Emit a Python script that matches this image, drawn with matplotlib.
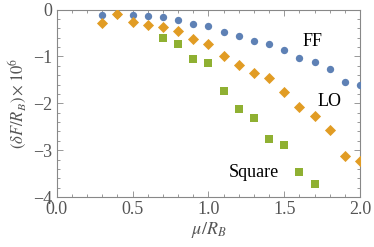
import matplotlib
matplotlib.use("Agg")
import matplotlib.pyplot as plt
from matplotlib.ticker import MultipleLocator, FuncFormatter

# data
ff_x = [0.3, 0.4, 0.5, 0.6, 0.7, 0.8, 0.9, 1.0, 1.1, 1.2, 1.3, 1.4, 1.5, 1.6, 1.7, 1.8, 1.9, 2.0]
ff_y = [-0.12, -0.10, -0.12, -0.14, -0.17, -0.22, -0.30, -0.35, -0.48, -0.57, -0.67, -0.73,
        -0.86, -1.03, -1.12, -1.27, -1.54, -1.61]

lo_x = [0.3, 0.4, 0.5, 0.6, 0.7, 0.8, 0.9, 1.0, 1.1, 1.2, 1.3, 1.4, 1.5, 1.6, 1.7, 1.8, 1.9, 2.0]
lo_y = [-0.28, -0.09, -0.27, -0.32, -0.37, -0.46, -0.62, -0.73, -0.99, -1.19, -1.36, -1.46,
        -1.76, -2.07, -2.27, -2.57, -3.12, -3.23]

sq_x = [0.7, 0.8, 0.9, 1.0, 1.1, 1.2, 1.3, 1.4, 1.5, 1.6, 1.7]
sq_y = [-0.61, -0.73, -1.05, -1.15, -1.73, -2.12, -2.32, -2.76, -2.88, -3.46, -3.73]

plt.rcParams["font.family"] = "Liberation Serif"
plt.rcParams["mathtext.fontset"] = "stix"

fig = plt.figure(figsize=(3.74, 2.47), dpi=100)
ax = fig.add_axes([0.1516, 0.2024, 0.811, 0.7591])

ax.scatter(ff_x, ff_y, marker="o", s=28, color="#5E81B5", linewidths=0, zorder=3)
ax.scatter(lo_x, lo_y, marker="D", s=32, color="#E19C24", linewidths=0, zorder=4)
ax.scatter(sq_x, sq_y, marker="s", s=26, color="#8FB032", linewidths=0, zorder=3)

ax.text(1.69, -0.68, "FF", fontsize=13, ha="center", va="center")
ax.text(1.80, -1.96, "LO", fontsize=13, ha="center", va="center")
ax.text(1.30, -3.48, "Square", fontsize=13, ha="center", va="center")

ax.set_xlim(0, 2.0)
ax.set_ylim(-4, 0)
ax.xaxis.set_major_locator(MultipleLocator(0.5))
ax.xaxis.set_minor_locator(MultipleLocator(0.1))
ax.yaxis.set_major_locator(MultipleLocator(1))
ax.yaxis.set_minor_locator(MultipleLocator(0.2))
ax.yaxis.set_major_formatter(FuncFormatter(lambda v, p: f"{int(round(v))}".replace("-", "\u2212")))
ax.xaxis.set_major_formatter(FuncFormatter(lambda v, p: f"{v:.1f}"))

gray = "#888888"
for s in ax.spines.values():
    s.set_color(gray)
    s.set_linewidth(0.8)
ax.tick_params(which="both", direction="in", top=True, right=True, color=gray,
               labelcolor="#555555", labelsize=13, width=0.6)
ax.tick_params(which="major", length=4)
ax.tick_params(which="minor", length=2)
ax.tick_params(axis="x", which="major", pad=3)
ax.tick_params(axis="y", which="major", pad=3)

ax.set_xlabel(r"$\mu/R_B$", fontsize=13, color="#555555", labelpad=1)
ax.set_ylabel(r"$(\delta F/R_B)\times 10^6$", fontsize=12, color="#555555", labelpad=3)

fig.savefig("out.png", dpi=100)
